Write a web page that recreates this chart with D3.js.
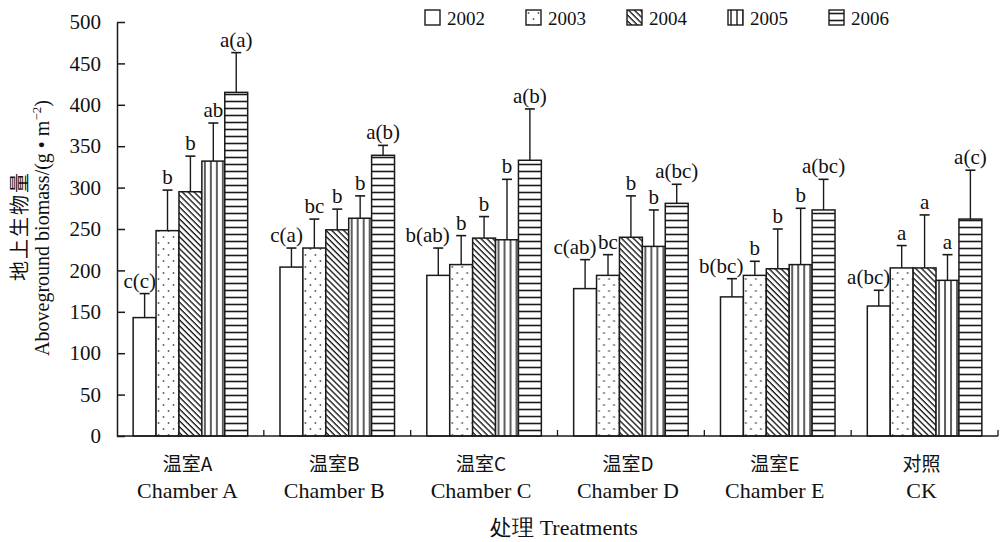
<!DOCTYPE html>
<html>
<head>
<meta charset="utf-8">
<script src="https://cdn.jsdelivr.net/npm/d3@7"></script>
<style>
  body { margin: 0; background: #fff; }
  svg { display: block; }
  text { fill: #111; }
</style>
</head>
<body>
<div id="display"></div>
<script>
var groupsZh = ["温室A", "温室B", "温室C", "温室D", "温室E", "对照"]
var groupsEn = ["Chamber A", "Chamber B", "Chamber C", "Chamber D", "Chamber E", "CK"]
var years = ["2002", "2003", "2004", "2005", "2006"]

// mean biomass per treatment, one array per year
var v2002 = [143, 204, 194, 178, 168, 157]
var v2003 = [248, 227, 207, 194, 194, 203]
var v2004 = [295, 249, 239, 240, 202, 203]
var v2005 = [332, 263, 237, 229, 207, 188]
var v2006 = [415, 339, 333, 281, 273, 262]

// standard deviation (upper error bar)
var sd2002 = [29, 23, 33, 35, 22, 19]
var sd2003 = [49, 35, 35, 25, 17, 27]
var sd2004 = [43, 25, 26, 50, 48, 64]
var sd2005 = [46, 27, 73, 44, 68, 31]
var sd2006 = [48, 12, 62, 23, 37, 59]

// significance letters
var sig2002 = ["c(c)", "c(a)", "b(ab)", "c(ab)", "b(bc)", "a(bc)"]
var sig2003 = ["b", "bc", "b", "bc", "b", "a"]
var sig2004 = ["b", "b", "b", "b", "b", "a"]
var sig2005 = ["ab", "b", "b", "b", "b", "a"]
var sig2006 = ["a(a)", "a(b)", "a(b)", "a(bc)", "a(bc)", "a(c)"]

var yTicks = [0, 50, 100, 150, 200, 250, 300, 350, 400, 450, 500]

var values = [v2002, v2003, v2004, v2005, v2006]
var sds = [sd2002, sd2003, sd2004, sd2005, sd2006]
var sigs = [sig2002, sig2003, sig2004, sig2005, sig2006]

var width = 1008, height = 542;
var margin = {left:117, right:1, top:22, bottom:106};
var serif = "'Liberation Serif', 'Times New Roman', serif";
var cjk = "'Noto Sans CJK SC', sans-serif";
var ink = "#1a1a1a";

var rows = [];
groupsEn.forEach(function(g, gi) {
  years.forEach(function(yr, yi) {
    rows.push({group: g, year: yr, yi: yi, value: values[yi][gi], sd: sds[yi][gi], sig: sigs[yi][gi]});
  });
});

var x0 = d3.scaleBand()
    .domain(groupsEn)
    .range([margin.left, width - margin.right - 9])
    .paddingInner(0.22)
    .paddingOuter(0.11);

var x1 = d3.scaleBand()
    .domain(years)
    .range([0, x0.bandwidth()]);

var y = d3.scaleLinear()
    .domain([0, 500])
    .range([height - margin.bottom, margin.top]);

var svg = d3.select("#display")
    .append("svg")
    .attr("width", width)
    .attr("height", height);

// hatch patterns
var defs = svg.append("defs");

defs.append("pattern")
    .attr("id", "p2002")
    .attr("patternUnits", "userSpaceOnUse")
    .attr("width", 8).attr("height", 8)
  .append("rect")
    .attr("width", 8).attr("height", 8).attr("fill", "#fff");

var pDots = defs.append("pattern")
    .attr("id", "p2003")
    .attr("patternUnits", "userSpaceOnUse")
    .attr("width", 10).attr("height", 12);
pDots.append("rect").attr("width", 10).attr("height", 12).attr("fill", "#fff");
pDots.append("circle").attr("cx", 2.5).attr("cy", 3).attr("r", 0.9).attr("fill", "#555");
pDots.append("circle").attr("cx", 7.5).attr("cy", 9).attr("r", 0.9).attr("fill", "#555");

var pDiag = defs.append("pattern")
    .attr("id", "p2004")
    .attr("patternUnits", "userSpaceOnUse")
    .attr("width", 4.2).attr("height", 10)
    .attr("patternTransform", "rotate(-45)");
pDiag.append("rect").attr("width", 4.2).attr("height", 10).attr("fill", "#fff");
pDiag.append("line").attr("x1", 1).attr("x2", 1).attr("y1", 0).attr("y2", 10)
    .attr("stroke", ink).attr("stroke-width", 1.4);

var pVert = defs.append("pattern")
    .attr("id", "p2005")
    .attr("patternUnits", "userSpaceOnUse")
    .attr("width", 6).attr("height", 10);
pVert.append("rect").attr("width", 6).attr("height", 10).attr("fill", "#fff");
pVert.append("line").attr("x1", 3).attr("x2", 3).attr("y1", 0).attr("y2", 10)
    .attr("stroke", ink).attr("stroke-width", 1.4);

var pHor = defs.append("pattern")
    .attr("id", "p2006")
    .attr("patternUnits", "userSpaceOnUse")
    .attr("width", 10).attr("height", 7);
pHor.append("rect").attr("width", 10).attr("height", 7).attr("fill", "#fff");
pHor.append("line").attr("x1", 0).attr("x2", 10).attr("y1", 3.5).attr("y2", 3.5)
    .attr("stroke", ink).attr("stroke-width", 1.6);

// bars
var bars = svg.append("g")
  .selectAll("g")
  .data(rows)
  .join("g")
    .attr("transform", d => "translate(" + (x0(d.group) + x1(d.year)) + ",0)");

bars.append("rect")
    .attr("x", 0)
    .attr("y", d => y(d.value))
    .attr("width", x1.bandwidth())
    .attr("height", d => y(0) - y(d.value))
    .attr("fill", d => "url(#p" + d.year + ")")
    .attr("stroke", ink)
    .attr("stroke-width", 1.5);

// error bars (upper only)
bars.append("line")
    .attr("x1", x1.bandwidth() / 2)
    .attr("x2", x1.bandwidth() / 2)
    .attr("y1", d => y(d.value))
    .attr("y2", d => y(d.value + d.sd))
    .attr("stroke", ink)
    .attr("stroke-width", 1.4);

bars.append("line")
    .attr("x1", x1.bandwidth() / 2 - 5)
    .attr("x2", x1.bandwidth() / 2 + 5)
    .attr("y1", d => y(d.value + d.sd))
    .attr("y2", d => y(d.value + d.sd))
    .attr("stroke", ink)
    .attr("stroke-width", 1.6);

bars.append("text")
    .attr("x", d => d.yi === 0 ? x1.bandwidth() : x1.bandwidth() / 2)
    .attr("y", d => y(d.value + d.sd) - 6)
    .attr("text-anchor", d => d.yi === 0 ? "end" : "middle")
    .style("font", "21px " + serif)
    .text(d => d.sig);

// y axis, ticks pointing inward
var yAxis = svg.append("g")
    .attr("transform", "translate(" + margin.left + ",0)")
    .call(d3.axisLeft(y).tickValues(yTicks).tickSizeInner(-8).tickSizeOuter(0).tickPadding(16));
yAxis.selectAll("path, line").attr("stroke", ink).attr("stroke-width", 1.5);
yAxis.selectAll("text").style("font", "21px " + serif).attr("fill", ink);

// x axis baseline with small ticks between groups
svg.append("line")
    .attr("x1", margin.left)
    .attr("x2", x0.range()[1])
    .attr("y1", y(0))
    .attr("y2", y(0))
    .attr("stroke", ink)
    .attr("stroke-width", 1.5);

var gap = x0.step() * x0.paddingInner() / 2;
svg.append("g")
  .selectAll("line")
  .data(groupsEn)
  .join("line")
    .attr("x1", d => x0(d) + x0.bandwidth() + gap)
    .attr("x2", d => x0(d) + x0.bandwidth() + gap)
    .attr("y1", y(0))
    .attr("y2", y(0) - 6)
    .attr("stroke", ink)
    .attr("stroke-width", 1.3);

// category labels
var cats = svg.append("g")
  .selectAll("g")
  .data(groupsEn)
  .join("g")
    .attr("transform", d => "translate(" + (x0(d) + x0.bandwidth() / 2 - 3) + ",0)");

cats.append("text")
    .attr("y", 471)
    .attr("text-anchor", "middle")
    .style("font", "19px " + cjk)
    .text((d, i) => groupsZh[i]);

cats.append("text")
    .attr("y", 498)
    .attr("text-anchor", "middle")
    .style("font", "22px " + serif)
    .text(d => d);

// axis titles
svg.append("text")
    .attr("x", 564)
    .attr("y", 535)
    .attr("text-anchor", "middle")
    .style("font", "22px " + serif)
    .text("处理 Treatments");

svg.append("text")
    .attr("transform", "translate(27,226) rotate(-90)")
    .attr("text-anchor", "middle")
    .attr("letter-spacing", 2)
    .style("font", "20px " + cjk)
    .text("地上生物量");

var yTitle = svg.append("text")
    .attr("transform", "translate(49,228) rotate(-90)")
    .attr("text-anchor", "middle")
    .style("font", "20px " + serif);
yTitle.append("tspan").text("Aboveground biomass/(g • m");
yTitle.append("tspan").attr("dy", -8).style("font-size", "13px").text("−2");
yTitle.append("tspan").attr("dy", 8).text(")");

// legend
var legend = svg.append("g")
  .selectAll("g")
  .data(years)
  .join("g")
    .attr("transform", (d, i) => "translate(" + (425 + i * 101) + ",10)");

legend.append("rect")
    .attr("width", 15)
    .attr("height", 15)
    .attr("fill", d => "url(#p" + d + ")")
    .attr("stroke", ink)
    .attr("stroke-width", 1.4);

legend.append("text")
    .attr("x", 22)
    .attr("y", 15)
    .style("font", "19px " + serif)
    .text(d => d);
</script>
</body>
</html>
